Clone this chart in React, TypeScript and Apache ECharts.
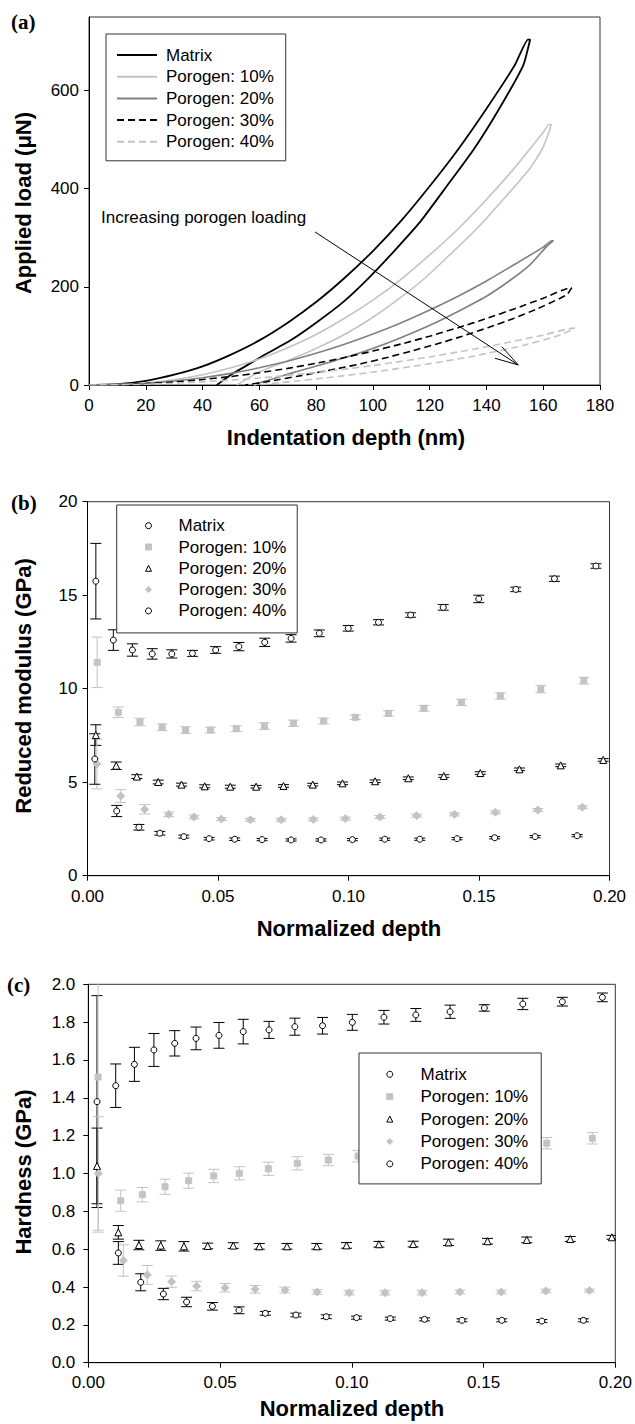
import React, { useEffect, useRef } from 'react';
import * as echarts from 'echarts';

const SERIES_NAMES = ['Matrix', 'Porogen: 10%', 'Porogen: 20%', 'Porogen: 30%', 'Porogen: 40%'];

// ---------- Panel (a): load-depth loops, [depth nm, load uN] ----------
const matrixLoad = [[0,0],[10,1.5],[20,8.5],[30,21],[40,38],[50,62],[60,91],[70,127],[80,169],[90,218],[100,273],[110,335],[120,405],[130,480],[140,563],[150,652],[154.6,704]];
const matrixUnload = [[155.4,704],[153,652],[144.5,563],[135.5,480],[126,405],[117,335],[107.5,273],[98.5,218],[89.5,169],[80,127],[71,91],[62,62],[55,38],[50,21],[47,8.5],[45,0]];
const p10Load = [[0,0],[10,0.9],[20,4.2],[30,10.7],[40,20.8],[50,35],[60,53],[70,76],[80,103],[90,136],[100,173],[110,216],[120,265],[130,318],[140,378],[150,443],[155,479],[160,515],[162,531]];
const p10Unload = [[162.8,531],[162,515],[159.5,479],[155.5,443],[145.9,378],[136.5,318],[127,265],[118,216],[108.5,173],[99.5,136],[90,103],[80.5,76],[71.5,53],[63.5,35],[58,21],[55,10],[52,0]];
const p20Load = [[0,0],[10,0.8],[20,3.4],[30,8],[40,14.8],[50,23.7],[60,35],[70,48.6],[80,64.5],[90,83],[100,104],[110,127],[120,153],[130,181],[140,212],[150,246],[160,281],[163,294]];
const p20Unload = [[163.6,294],[161,281],[155.5,246],[148,212],[140,181],[131,153],[122,127],[113,104],[104,83],[95,64.5],[86,48.6],[78,35],[71,23.7],[66,14.8],[62,8],[58,0]];
const p30Load = [[0,0],[10,0.7],[20,2.8],[30,6.2],[40,11.1],[50,17.3],[60,24.9],[70,33.9],[80,44.2],[90,56],[100,69.1],[110,83.6],[120,99.5],[130,116.8],[140,135.5],[150,155.5],[160,176.9],[169.5,198]];
const p30Unload = [[170,198],[168.5,185],[166,176.9],[158,155.5],[149.5,135.5],[140.5,116.8],[131.5,99.5],[122.5,83.6],[113.5,69.1],[105,56],[96.5,44.2],[88,33.9],[80,24.9],[73,17.3],[67,11.1],[62,6.2],[55,0]];
const p40Load = [[0,0],[20,1.6],[40,6.4],[60,14.3],[80,25.4],[100,39.7],[120,57.2],[140,77.8],[160,101.7],[170.7,116]];
const p40Unload = [[171.1,116],[166,101.7],[151,77.8],[134,57.2],[116,39.7],[99,25.4],[83,14.3],[70,6.4],[62,1.6],[58,0]];
const arrowShaft = [[79.6,312],[151.2,40.8]];
const arrowHead = [[145.4,78.2],[151.2,40.8],[143,54.5]];

// ---------- Panel (b): reduced modulus (GPa) vs normalized depth ----------
const bMatrixX = [0.0032,0.0099,0.0172,0.0248,0.0323,0.0402,0.0491,0.058,0.0679,0.078,0.0888,0.0999,0.1115,0.1238,0.1363,0.1499,0.1641,0.1789,0.1948];
const bMatrixY = [15.75,12.6,12.07,11.86,11.86,11.89,12.07,12.25,12.48,12.69,12.96,13.23,13.55,13.94,14.35,14.8,15.31,15.88,16.56];
const bMatrixE = [2.02,0.55,0.33,0.28,0.22,0.16,0.18,0.22,0.22,0.2,0.18,0.15,0.14,0.12,0.15,0.2,0.12,0.14,0.12];
const b10X = [0.0037,0.0118,0.0201,0.0286,0.0376,0.0471,0.057,0.0678,0.0789,0.0905,0.1026,0.1153,0.1289,0.1433,0.1582,0.1737,0.1902];
const b10Y = [11.41,8.74,8.22,7.94,7.79,7.79,7.86,8.0,8.15,8.27,8.47,8.68,8.95,9.27,9.61,9.98,10.43];
const b10E = [1.35,0.28,0.2,0.18,0.18,0.15,0.15,0.18,0.17,0.15,0.12,0.15,0.15,0.17,0.17,0.2,0.18];
const b20X = [0.0032,0.011,0.0189,0.0271,0.036,0.0449,0.0547,0.0646,0.0751,0.0863,0.0977,0.1102,0.1229,0.1365,0.1505,0.1655,0.1813,0.1976];
const b20Y = [7.52,5.88,5.3,5.01,4.87,4.78,4.76,4.76,4.8,4.87,4.94,5.05,5.21,5.33,5.49,5.69,5.9,6.19];
const b20E = [0.55,0.2,0.1,0.1,0.08,0.08,0.08,0.07,0.07,0.07,0.07,0.07,0.07,0.07,0.07,0.07,0.07,0.07];
const b30X = [0.0036,0.0127,0.0219,0.0311,0.0408,0.0513,0.0624,0.0742,0.0865,0.0988,0.112,0.1261,0.1406,0.1563,0.1725,0.1896];
const b30Y = [5.97,4.26,3.55,3.28,3.14,3.03,2.99,2.99,3.01,3.05,3.14,3.21,3.28,3.39,3.51,3.66];
const b30E = [1.33,0.34,0.25,0.12,0.1,0.08,0.08,0.08,0.08,0.08,0.08,0.08,0.08,0.08,0.08,0.08];
const b40X = [0.0028,0.0112,0.0197,0.0277,0.0369,0.0466,0.0564,0.0669,0.078,0.0895,0.1015,0.1139,0.1273,0.1416,0.156,0.1715,0.1876];
const b40Y = [6.24,3.46,2.59,2.27,2.09,1.98,1.95,1.93,1.91,1.91,1.93,1.95,1.95,1.98,2.03,2.09,2.14];
const b40E = [1.35,0.3,0.15,0.1,0.08,0.07,0.07,0.06,0.06,0.06,0.06,0.06,0.06,0.06,0.06,0.06,0.06];

// ---------- Panel (c): hardness (GPa) vs normalized depth ----------
const cMatrixX = [0.0033,0.0104,0.0175,0.0249,0.0328,0.0409,0.0496,0.0588,0.0686,0.0784,0.0889,0.1002,0.1122,0.1243,0.1373,0.1503,0.1649,0.1799,0.1951];
const cMatrixY = [1.38,1.464,1.577,1.653,1.688,1.714,1.73,1.75,1.759,1.776,1.781,1.799,1.826,1.838,1.855,1.875,1.896,1.908,1.931];
const cMatrixE = [0.56,0.115,0.09,0.087,0.067,0.06,0.068,0.065,0.045,0.045,0.044,0.042,0.036,0.034,0.035,0.017,0.03,0.023,0.023];
const c10X = [0.0037,0.0123,0.0205,0.0291,0.0381,0.0476,0.0573,0.0683,0.0793,0.0911,0.1024,0.115,0.1285,0.143,0.158,0.174,0.1913];
const c10Y = [1.51,0.856,0.888,0.93,0.962,0.987,1.001,1.025,1.054,1.071,1.092,1.105,1.12,1.132,1.145,1.16,1.186];
const c10E = [0.82,0.056,0.038,0.04,0.04,0.035,0.035,0.035,0.035,0.03,0.03,0.03,0.03,0.03,0.03,0.03,0.03];
const c20X = [0.0033,0.0114,0.0192,0.0275,0.0363,0.0453,0.055,0.0649,0.0754,0.0867,0.098,0.1103,0.1233,0.1367,0.1515,0.1664,0.1829,0.1987];
const c20Y = [1.04,0.689,0.622,0.619,0.615,0.617,0.619,0.615,0.615,0.615,0.62,0.626,0.627,0.636,0.642,0.649,0.654,0.663];
const c20E = [0.2,0.036,0.025,0.025,0.025,0.015,0.015,0.015,0.015,0.015,0.015,0.015,0.015,0.017,0.015,0.015,0.013,0.01];
const c30X = [0.0038,0.0133,0.0224,0.0316,0.0411,0.0519,0.0633,0.0746,0.0868,0.099,0.1126,0.1267,0.141,0.1567,0.1736,0.1902];
const c30Y = [1.0,0.54,0.464,0.428,0.405,0.396,0.388,0.384,0.374,0.37,0.37,0.37,0.374,0.374,0.379,0.381];
const c30E = [0.3,0.083,0.05,0.03,0.025,0.022,0.02,0.015,0.012,0.012,0.012,0.012,0.01,0.01,0.01,0.008];
const c40X = [0.0114,0.0199,0.0285,0.0373,0.0471,0.0572,0.0672,0.0788,0.0903,0.1018,0.1146,0.1276,0.1418,0.1569,0.1721,0.1879];
const c40Y = [0.58,0.425,0.363,0.321,0.298,0.277,0.261,0.252,0.243,0.238,0.233,0.229,0.224,0.224,0.22,0.224];
const c40E = [0.06,0.045,0.03,0.025,0.02,0.018,0.01,0.01,0.01,0.008,0.008,0.008,0.008,0.008,0.008,0.008];

// axis ticks
const aYTicks = [0,200,400,600];

const BLACK = '#000';
const LIGHT = '#c3c3c3';
const MID = '#808080';
const SANS = '"Liberation Sans", Arial, sans-serif';
const SERIF = '"Liberation Serif", "Times New Roman", serif';

function errRender(color: string) {
  return (params: any, api: any) => {
    const x = api.value(0), y = api.value(1), e = api.value(2);
    const top = api.coord([x, y + e]);
    const bot = api.coord([x, y - e]);
    const hw = 5.5;
    const style = { stroke: color, lineWidth: 1, fill: 'none' };
    return {
      type: 'group',
      children: [
        { type: 'line', shape: { x1: top[0], y1: top[1], x2: bot[0], y2: bot[1] }, style },
        { type: 'line', shape: { x1: top[0] - hw, y1: top[1], x2: top[0] + hw, y2: top[1] }, style },
        { type: 'line', shape: { x1: bot[0] - hw, y1: bot[1], x2: bot[0] + hw, y2: bot[1] }, style },
      ],
    };
  };
}

function zip3(xs: number[], ys: number[], es: number[]) {
  return xs.map((x, i) => [x, ys[i], es[i]]);
}
function zip2(xs: number[], ys: number[]) {
  return xs.map((x, i) => [x, ys[i]]);
}

const markerStyles = [
  { symbol: 'circle', size: 6, fill: '#fff', stroke: BLACK, err: BLACK },
  { symbol: 'rect', size: 6, fill: LIGHT, stroke: LIGHT, err: LIGHT },
  { symbol: 'triangle', size: 7, fill: '#fff', stroke: BLACK, err: BLACK },
  { symbol: 'diamond', size: 8, fill: LIGHT, stroke: LIGHT, err: LIGHT },
  { symbol: 'circle', size: 6, fill: '#fff', stroke: BLACK, err: BLACK },
];

function panelSeries(tag: string, idx: number, groups: [number[], number[], number[]][]) {
  const errs: any[] = [];
  const pts: any[] = [];
  groups.forEach((g, i) => {
    const m = markerStyles[i];
    errs.push({
      type: 'custom', name: 'err-' + tag + i, xAxisIndex: idx, yAxisIndex: idx,
      data: zip3(g[0], g[1], g[2]), clip: true, silent: true, z: 2,
      encode: { x: 0, y: 1 }, renderItem: errRender(m.err),
    });
    pts.push({
      type: 'scatter', name: SERIES_NAMES[i] + '|' + tag, xAxisIndex: idx, yAxisIndex: idx,
      data: zip2(g[0], g[1]), symbol: m.symbol, symbolSize: m.size, z: 3, silent: true,
      itemStyle: { color: m.fill, borderColor: m.stroke, borderWidth: 1, opacity: 1 },
    });
  });
  return [...errs, ...pts];
}

const loopStyles = [
  { color: BLACK, width: 1.8, type: 'solid' },
  { color: LIGHT, width: 1.6, type: 'solid' },
  { color: MID, width: 1.6, type: 'solid' },
  { color: BLACK, width: 1.6, type: [7, 4] },
  { color: LIGHT, width: 1.6, type: [7, 4] },
];
const loops = [
  [matrixLoad, matrixUnload],
  [p10Load, p10Unload],
  [p20Load, p20Unload],
  [p30Load, p30Unload],
  [p40Load, p40Unload],
];

export default function App() {
  const ref = useRef<HTMLDivElement>(null);
  useEffect(() => {
    if (!ref.current) return;
    const chart = echarts.init(ref.current, undefined, { renderer: 'svg' });

    const tickLabel = { fontSize: 17, fontFamily: SANS, color: '#000' };
    const axisLine = { show: true, lineStyle: { color: '#000', width: 1 } };
    const axisTick = { show: true, length: 5, lineStyle: { color: '#000' } };

    const lineSeries = loops.map((lp, i) => ({
      type: 'line', name: SERIES_NAMES[i] + '|a', xAxisIndex: 0, yAxisIndex: 0,
      data: [...lp[0], ...lp[1]], smooth: 0.15, symbol: 'none', showSymbol: false, silent: true,
      lineStyle: { color: loopStyles[i].color, width: loopStyles[i].width, type: loopStyles[i].type as any },
      itemStyle: { color: loopStyles[i].color },
      z: 3,
    }));

    const arrowSeries = [arrowShaft, arrowHead].map((d, i) => ({
      type: 'line', name: 'arrow' + i, xAxisIndex: 0, yAxisIndex: 0, data: d,
      symbol: 'none', silent: true, z: 4,
      lineStyle: { color: '#000', width: 1 },
    }));

    const legendBase = {
      orient: 'vertical', selectedMode: false, backgroundColor: '#fff',
      borderColor: '#333', borderWidth: 1, borderRadius: 0,
      formatter: (n: string) => n.split('|')[0],
      textStyle: { fontSize: 17, fontFamily: SANS, color: '#000', lineHeight: 18 },
      itemStyle: { borderWidth: 1 },
      z: 10,
    };

    const option: any = {
      animation: false,
      grid: [
        { left: 89, top: 17, width: 511, height: 368, show: true, borderColor: '#333', borderWidth: 1 },
        { left: 87.5, top: 501.7, width: 522, height: 374, show: true, borderColor: '#333', borderWidth: 1 },
        { left: 88.3, top: 984.3, width: 527, height: 378.4, show: true, borderColor: '#333', borderWidth: 1 },
      ],
      xAxis: [
        { type: 'value', gridIndex: 0, min: 0, max: 180, interval: 20, splitLine: { show: false },
          axisLine, axisTick, axisLabel: { ...tickLabel, margin: 12 } },
        { type: 'value', gridIndex: 1, min: 0, max: 0.2, interval: 0.05, splitLine: { show: false },
          axisLine, axisTick, axisLabel: { ...tickLabel, margin: 12, formatter: (v: number) => v.toFixed(2) } },
        { type: 'value', gridIndex: 2, min: 0, max: 0.2, interval: 0.05, splitLine: { show: false },
          axisLine, axisTick, axisLabel: { ...tickLabel, margin: 11, formatter: (v: number) => v.toFixed(2) } },
      ],
      yAxis: [
        { type: 'value', gridIndex: 0, min: 0, max: 750, interval: 200, splitLine: { show: false },
          axisLine, axisTick: { ...axisTick, customValues: aYTicks },
          axisLabel: { ...tickLabel, margin: 10, customValues: aYTicks, formatter: (v: number) => (v % 200 === 0 ? String(v) : '') } },
        { type: 'value', gridIndex: 1, min: 0, max: 20, interval: 5, splitLine: { show: false },
          axisLine, axisTick, axisLabel: { ...tickLabel, margin: 10 } },
        { type: 'value', gridIndex: 2, min: 0, max: 2, interval: 0.2, splitLine: { show: false },
          axisLine, axisTick, axisLabel: { ...tickLabel, margin: 13, formatter: (v: number) => v.toFixed(1) } },
      ],
      legend: [
        { ...legendBase, data: SERIES_NAMES.map((n) => n + '|a'), left: 106, top: 34,
          padding: [12, 12, 10, 10], itemWidth: 40, itemHeight: 14, itemGap: 3.7,
          itemStyle: { opacity: 0, borderWidth: 0 },
          textStyle: { ...legendBase.textStyle, padding: [0, 0, 0, 4] } },
        { ...legendBase, data: SERIES_NAMES.map((n) => n + '|b'), left: 116.7, top: 505,
          padding: [11.7, 11, 13, 28.3], itemWidth: 6, itemHeight: 6, itemGap: 3.3,
          textStyle: { ...legendBase.textStyle, padding: [0, 0, 0, 22] } },
        { ...legendBase, data: SERIES_NAMES.map((n) => n + '|c'), left: 359, top: 1053,
          padding: [12.3, 13, 11, 27.3], itemWidth: 6, itemHeight: 6, itemGap: 4.4,
          textStyle: { ...legendBase.textStyle, padding: [0, 0, 0, 22.7] } },
      ],
      graphic: [
        { type: 'text', left: 11, top: 11, style: { text: '(a)', font: `bold 21px ${SERIF}`, fill: '#000' } },
        { type: 'text', left: 11, top: 492, style: { text: '(b)', font: `bold 21px ${SERIF}`, fill: '#000' } },
        { type: 'text', left: 7, top: 974, style: { text: '(c)', font: `bold 21px ${SERIF}`, fill: '#000' } },
        { type: 'text', left: 101, top: 209, style: { text: 'Increasing porogen loading', font: `17px ${SANS}`, fill: '#000' } },
        { type: 'text', x: 23, y: 203, rotation: Math.PI / 2,
          style: { text: 'Applied load (\u03bcN)', font: `bold 22px ${SANS}`, fill: '#000', align: 'center', verticalAlign: 'middle' } },
        { type: 'text', x: 346, y: 437,
          style: { text: 'Indentation depth (nm)', font: `bold 22px ${SANS}`, fill: '#000', align: 'center', verticalAlign: 'middle' } },
        { type: 'text', x: 23, y: 686, rotation: Math.PI / 2,
          style: { text: 'Reduced modulus (GPa)', font: `bold 22px ${SANS}`, fill: '#000', align: 'center', verticalAlign: 'middle' } },
        { type: 'text', x: 349, y: 928,
          style: { text: 'Normalized depth', font: `bold 22px ${SANS}`, fill: '#000', align: 'center', verticalAlign: 'middle' } },
        { type: 'text', x: 23, y: 1172, rotation: Math.PI / 2,
          style: { text: 'Hardness (GPa)', font: `bold 22px ${SANS}`, fill: '#000', align: 'center', verticalAlign: 'middle' } },
        { type: 'text', x: 352, y: 1408,
          style: { text: 'Normalized depth', font: `bold 22px ${SANS}`, fill: '#000', align: 'center', verticalAlign: 'middle' } },
      ],
      series: [
        ...lineSeries,
        ...arrowSeries,
        ...panelSeries('b', 1, [
          [bMatrixX, bMatrixY, bMatrixE], [b10X, b10Y, b10E], [b20X, b20Y, b20E], [b30X, b30Y, b30E], [b40X, b40Y, b40E],
        ]),
        ...panelSeries('c', 2, [
          [cMatrixX, cMatrixY, cMatrixE], [c10X, c10Y, c10E], [c20X, c20Y, c20E], [c30X, c30Y, c30E], [c40X, c40Y, c40E],
        ]),
      ],
    };
    chart.setOption(option);
    return () => chart.dispose();
  }, []);
  return <div ref={ref} style={{ position: 'absolute', left: 0, top: 0, width: 635, height: 1424, background: '#fff' }} />;
}
